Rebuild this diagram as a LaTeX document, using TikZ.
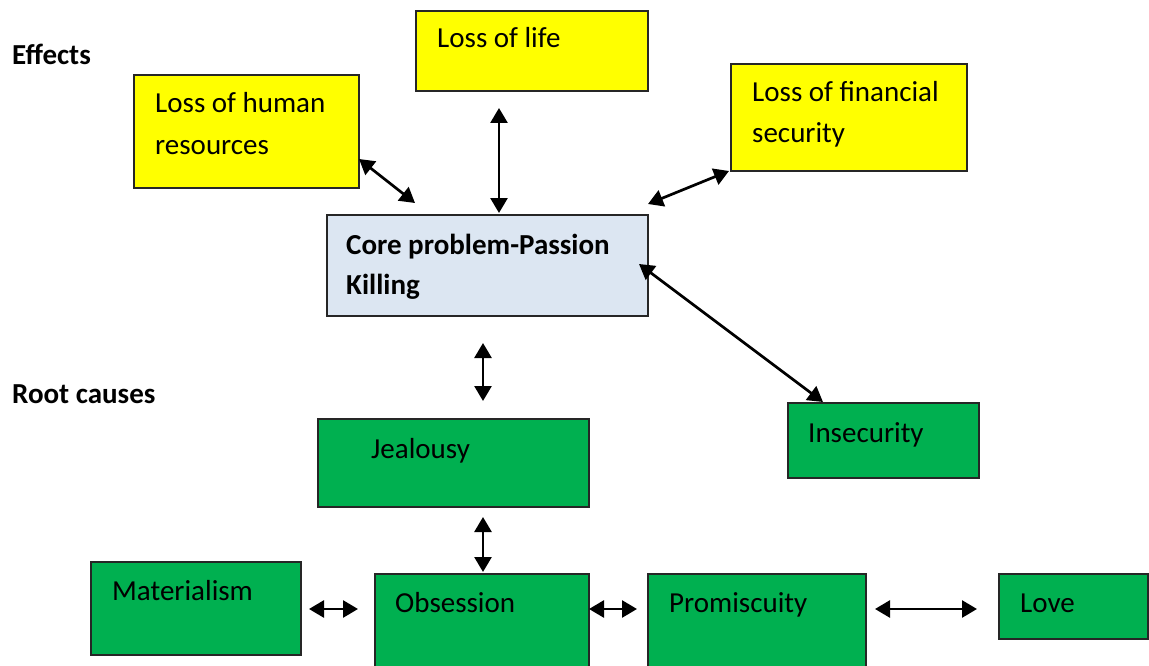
\documentclass[tikz,border=0pt]{standalone}
\usepackage{fontspec}
\setmainfont{Carlito}
\usetikzlibrary{arrows.meta}
\definecolor{effyellow}{HTML}{FFFF00}
\definecolor{corefill}{HTML}{DCE6F2}
\definecolor{causegreen}{HTML}{00B050}
\tikzset{
  box/.style={draw=black!85, line width=2pt, rectangle, inner sep=0pt, anchor=north west},
  ybox/.style={box, fill=effyellow},
  cbox/.style={box, fill=corefill},
  gbox/.style={box, fill=causegreen},
  txt/.style={anchor=base west, inner sep=0pt, font=\fontsize{29}{34}\selectfont},
  btxt/.style={txt, font=\fontsize{29}{34}\selectfont\bfseries},
  dbl/.style={line width=2.7pt, {Triangle[length=15pt,width=17pt]}-{Triangle[length=15pt,width=17pt]}},
}
\begin{document}
\begin{tikzpicture}[x=1pt,y=-1pt]
\useasboundingbox (0,0) rectangle (1149,666);
% headings
\node[btxt] (effects) at (12,65) {Effects};
\node[btxt] (rootcauses) at (12,403) {Root causes};
% effect boxes
\node[ybox, minimum width=232, minimum height=80] (life) at (415,10) {};
\node[txt] (lifet) at (437,48) {Loss of life};
\node[ybox, minimum width=225, minimum height=113] (human) at (133,74) {};
\node[txt] (humant1) at (155,113) {Loss of human};
\node[txt] (humant2) at (155,155) {resources};
\node[ybox, minimum width=236, minimum height=107] (fin) at (730,63) {};
\node[txt] (fint1) at (752,102) {Loss of financial};
\node[txt] (fint2) at (752,143) {security};
% core
\node[cbox, minimum width=321, minimum height=101] (core) at (326,214) {};
\node[btxt] (coret1) at (346,254) {Core problem-Passion};
\node[btxt] (coret2) at (346,294) {Killing};
% causes
\node[gbox, minimum width=191, minimum height=75] (insec) at (787,402) {};
\node[txt] (insect) at (808,442) {Insecurity};
\node[gbox, minimum width=271, minimum height=88] (jeal) at (317,418) {};
\node[txt] (jealt) at (371,458) {Jealousy};
\node[gbox, minimum width=210, minimum height=93] (mat) at (90,561) {};
\node[txt] (matt) at (112,600) {Materialism};
\node[gbox, minimum width=214, minimum height=110] (obs) at (374,573) {};
\node[txt] (obst) at (395,612) {Obsession};
\node[gbox, minimum width=218, minimum height=110] (prom) at (647,573) {};
\node[txt] (promt) at (669,612) {Promiscuity};
\node[gbox, minimum width=149, minimum height=65] (love) at (998,573) {};
\node[txt] (lovet) at (1020,612) {Love};
% connector end points
\coordinate (hA) at (359,159);
\coordinate (hB) at (415,203);
\coordinate (lA) at (499,108);
\coordinate (lB) at (499,213);
\coordinate (fA) at (729,171);
\coordinate (fB) at (648,204);
\coordinate (iA) at (639,264);
\coordinate (iB) at (823,402);
\coordinate (jA) at (483,343);
\coordinate (jB) at (483,401);
\coordinate (oA) at (483,517);
\coordinate (oB) at (483,572);
\coordinate (mA) at (309,609);
\coordinate (mB) at (358,609);
\coordinate (pA) at (589,609);
\coordinate (pB) at (637,609);
\coordinate (vA) at (875,609);
\coordinate (vB) at (977,609);
% connectors
\draw[dbl] (hA) -- (hB);
\draw[dbl] (lA) -- (lB);
\draw[dbl] (fA) -- (fB);
\draw[dbl] (iA) -- (iB);
\draw[dbl] (jA) -- (jB);
\draw[dbl] (oA) -- (oB);
\draw[dbl] (mA) -- (mB);
\draw[dbl] (pA) -- (pB);
\draw[dbl] (vA) -- (vB);
\end{tikzpicture}
\end{document}
